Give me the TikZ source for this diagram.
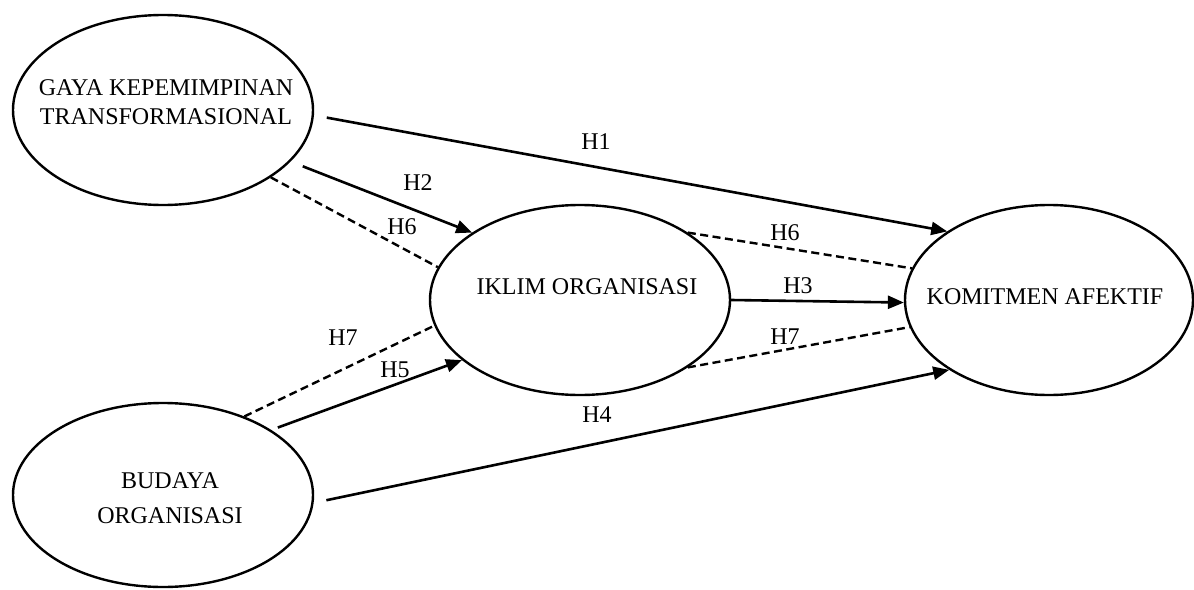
\documentclass[tikz,border=0pt]{standalone}
\usepackage{fontspec}
\setmainfont{Liberation Serif}
\usetikzlibrary{arrows.meta,shapes.geometric}
\begin{document}
\begin{tikzpicture}[x=1pt,y=-1pt,
  lat/.style={draw,ellipse,line width=2.4pt,inner sep=0pt},
  txt/.style={font=\fontsize{24}{29}\selectfont,align=center,inner sep=0pt},
  hl/.style={font=\fontsize{24}{29}\selectfont,inner sep=0pt},
  arr/.style={line width=2.6pt,-{Triangle[length=16pt,width=13pt]}},
  ind/.style={line width=2.4pt,dash pattern=on 8pt off 4.5pt}]
\useasboundingbox (0,0) rectangle (1194,589);
% latent variables
\node[lat,minimum width=300pt,minimum height=190pt] (g) at (163,110) {};
\node[lat,minimum width=300pt,minimum height=184pt] (b) at (163,495) {};
\node[lat,minimum width=300pt,minimum height=190pt] (i) at (580,300) {};
\node[lat,minimum width=288pt,minimum height=190pt] (k) at (1049,300) {};
% texts
\node[txt] (tg) at (166,102) {GAYA KEPEMIMPINAN\\TRANSFORMASIONAL};
\node[txt] (tb) at (170,498) {BUDAYA\\[6pt]ORGANISASI};
\node[txt] (ti) at (587,287) {IKLIM ORGANISASI};
\node[txt] (tk) at (1045,297) {KOMITMEN AFEKTIF};
% connectors
\draw[arr,shorten <=13pt] (g.-2) -- (k.146);
\draw[arr,shorten <=13pt] (g.-22) -- (i.148);
\draw[ind] (g.-32) -- (i.167);
\draw[ind] (b.44) -- (i.190);
\draw[arr,shorten <=7pt] (b.31) -- (i.207);
\draw[ind] (i.32) -- (k.167);
\draw[arr] (i.0) -- (k.181);
\draw[ind] (i.-32) -- (k.191);
\draw[arr,shorten <=13pt] (b.-3) -- (k.215);
% labels
\node[hl] (l1) at (596,142) {H1};
\node[hl] (l2) at (418,183) {H2};
\node[hl] (l6a) at (402,227) {H6};
\node[hl] (l7a) at (343,338) {H7};
\node[hl] (l5) at (395,370) {H5};
\node[hl] (l6b) at (785,233) {H6};
\node[hl] (l3) at (798,286) {H3};
\node[hl] (l7b) at (785,337) {H7};
\node[hl] (l4) at (597,415) {H4};
\end{tikzpicture}
\end{document}
